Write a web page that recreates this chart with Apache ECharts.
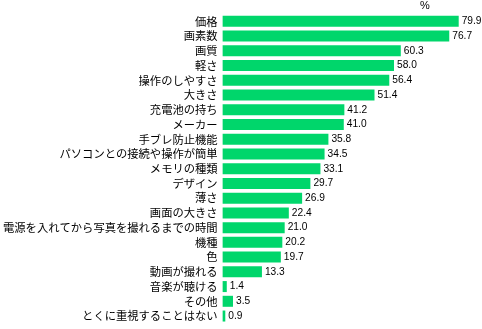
<!DOCTYPE html>
<html><head><meta charset="utf-8">
<script src="https://cdn.jsdelivr.net/npm/echarts@6/dist/echarts.min.js"></script>
<style>html,body{margin:0;padding:0;background:#fff}#c{width:482px;height:329px}</style>
</head><body><div id="c"></div>
<script>
var categories = ["価格","画素数","画質","軽さ","操作のしやすさ","大きさ","充電池の持ち","メーカー","手ブレ防止機能","パソコンとの接続や操作が簡単","メモリの種類","デザイン","薄さ","画面の大きさ","電源を入れてから写真を撮れるまでの時間","機種","色","動画が撮れる","音楽が聴ける","その他","とくに重視することはない"];
var values = [79.9,76.7,60.3,58.0,56.4,51.4,41.2,41.0,35.8,34.5,33.1,29.7,26.9,22.4,21.0,20.2,19.7,13.3,1.4,3.5,0.9];
var unitLabel = "%";

var chart = echarts.init(document.getElementById('c'), null, {renderer:'canvas'});
chart.setOption({
  animation:false,
  grid:{left:221, right:23, top:14, bottom:5.6, containLabel:false},
  xAxis:{type:'value', min:0, max:80, show:false},
  yAxis:{type:'category', data:categories, inverse:true,
    axisLine:{show:false}, axisTick:{show:false}, splitLine:{show:false},
    axisLabel:{margin:5, color:'#000', fontSize:11.3, fontFamily:'Noto Sans CJK JP'}},
  graphic:[{type:'text', left:420, top:0, style:{text:unitLabel, fill:'#000', font:'11px "Liberation Sans"'}}],
  series:[{type:'bar', data:values, barWidth:11,
    itemStyle:{color:'#00d66b'},
    label:{show:true, position:'right', distance:3, color:'#000', fontSize:10.2, fontFamily:'Liberation Sans',
      formatter:function(p){return p.value.toFixed(1);}}}]
});
</script></body></html>
